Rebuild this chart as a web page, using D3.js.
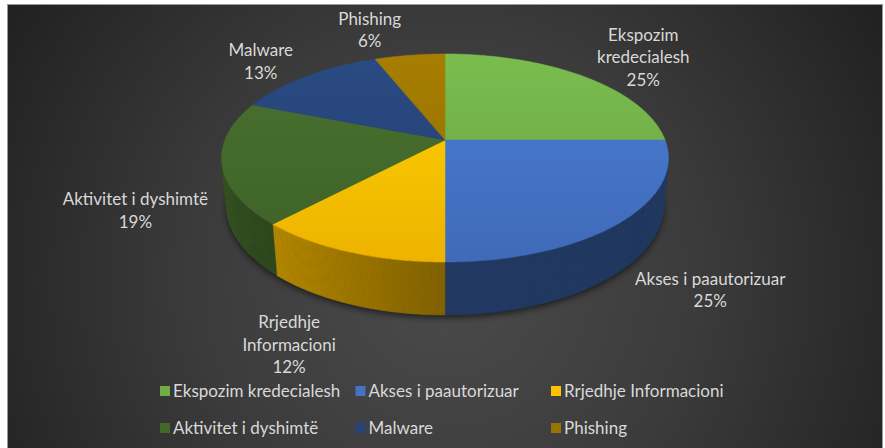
<!DOCTYPE html>
<html>
<head>
<meta charset="utf-8">
<script src="https://cdn.jsdelivr.net/npm/d3@7"></script>
<style>
  body { margin: 0; background: #fff; }
  svg { display: block; }
  text { font-family: Lato, "Open Sans", sans-serif; fill: #d9d9d9; }
</style>
</head>
<body>
<script>
// chart data
const categories = ['Ekspozim kredecialesh', 'Akses i paautorizuar', 'Rrjedhje Informacioni',
  'Aktivitet i dyshimtë', 'Malware', 'Phishing'];
const values = [25, 25, 12, 19, 13, 6];
const colors = ['#70AD47', '#4472C4', '#FFC000', '#43682B', '#264478', '#997300'];
const labelLines = [['Ekspozim', 'kredecialesh'], ['Akses i paautorizuar'], ['Rrjedhje', 'Informacioni'],
  ['Aktivitet i dyshimtë'], ['Malware'], ['Phishing']];

// layout
const width = 885;
const height = 448;
const cx = 445, cy = 140;       // screen position of the pie centre (top face)
const f = 1130, D = 5.135;      // focal length, camera distance (radius = 1)
const sa = 0.4586, ca = 0.8886; // sin / cos of the view tilt
const thick = 0.2436;           // pie height
const labelRadius = 1.35;
const lineGap = 22.5;
const labelNudge = [[18, 0], [20, -18], [-20, -12], [-11, -9], [-4, 4], [-30, -1]];

const svg = d3.select('body').append('svg')
  .attr('width', width)
  .attr('height', height);

const defs = svg.append('defs');

const bg = defs.append('radialGradient')
  .attr('id', 'bg')
  .attr('gradientUnits', 'userSpaceOnUse')
  .attr('cx', 445).attr('cy', 280).attr('r', 560);
bg.append('stop').attr('offset', 0).attr('stop-color', '#4b4b4b');
bg.append('stop').attr('offset', 0.45).attr('stop-color', '#3b3b3b');
bg.append('stop').attr('offset', 1).attr('stop-color', '#1c1c1c');

defs.append('filter').attr('id', 'blur')
  .attr('x', '-20%').attr('y', '-20%').attr('width', '140%').attr('height', '140%')
  .append('feGaussianBlur').attr('stdDeviation', 3);

svg.append('rect')
  .attr('x', 7.5).attr('y', 4.5)
  .attr('width', 875).attr('height', 450)
  .attr('fill', 'url(#bg)')
  .attr('stroke', '#9a9a9a');

// project a point of the pie (angle from 12 o'clock clockwise, radius k, height y)
function proj(theta, k, y) {
  const X = k * Math.sin(theta);
  const Z = k * Math.cos(theta);
  const depth = D + Z * ca - y * sa;
  return [cx + f * X / depth, cy - f * (y * ca + Z * sa) / depth];
}

function arcPoints(a0, a1, k, y) {
  const n = Math.max(2, Math.ceil((a1 - a0) / 0.01));
  return d3.range(n + 1).map(i => proj(a0 + (a1 - a0) * i / n, k, y));
}

const arcs = d3.pie().sort(null).value(d => d)(values);
const total = d3.sum(values);
const pct = d3.format('.0%');

// soft shadow under the pie
svg.append('path')
  .attr('d', d3.line()(arcPoints(0, 2 * Math.PI, 1.0, -thick)) + 'Z')
  .attr('fill', '#000')
  .attr('opacity', 0.55)
  .attr('transform', 'translate(0,3)')
  .attr('filter', 'url(#blur)');

// outer walls, only the parts that face the camera
const wall = svg.append('g').attr('class', 'walls');
arcs.forEach((d, i) => {
  const step = 0.01;
  for (let t = d.startAngle; t < d.endAngle - 1e-9; t += step) {
    const t1 = Math.min(t + step, d.endAngle);
    const mid = (t + t1) / 2;
    if (-D * ca * Math.cos(mid) - 1 <= 0) continue;
    const shade = 0.5 + 0.3 * Math.max(0, -Math.sin(mid));
    const col = d3.interpolateRgb('#000', colors[i])(shade);
    const pts = [proj(t, 1, 0), proj(t1 + 0.002, 1, 0), proj(t1 + 0.002, 1, -thick), proj(t, 1, -thick)];
    wall.append('path')
      .attr('d', d3.line()(pts) + 'Z')
      .attr('fill', col)
      .attr('stroke', col)
      .attr('stroke-width', 0.4);
  }
});

// top faces
const topFaces = svg.append('g').attr('class', 'tops');
arcs.forEach((d, i) => {
  const g = defs.append('linearGradient')
    .attr('id', 'top' + i)
    .attr('gradientUnits', 'userSpaceOnUse')
    .attr('x1', 0).attr('y1', 54).attr('x2', 0).attr('y2', 262);
  g.append('stop').attr('offset', 0).attr('stop-color', d3.color(colors[i]).brighter(0.25));
  g.append('stop').attr('offset', 1).attr('stop-color', d3.color(colors[i]).darker(0.2));

  const pts = [proj(0, 0, 0)].concat(arcPoints(d.startAngle, d.endAngle, 1, 0));
  topFaces.append('path')
    .attr('d', d3.line()(pts) + 'Z')
    .attr('fill', 'url(#top' + i + ')')
    .attr('stroke', 'url(#top' + i + ')')
    .attr('stroke-width', 0.5);
});

// data labels
const labels = svg.append('g').attr('class', 'labels')
  .attr('font-size', 17)
  .attr('text-anchor', 'middle');
arcs.forEach((d, i) => {
  const mid = (d.startAngle + d.endAngle) / 2;
  const y = Math.cos(mid) < 0 ? -thick : 0;
  const p = proj(mid, labelRadius, y);
  const lines = labelLines[i].concat([pct(values[i] / total)]);
  const lx = p[0] + labelNudge[i][0];
  const ly = p[1] + labelNudge[i][1] - (lines.length - 1) * lineGap / 2 + 6;
  const text = labels.append('text').attr('x', lx).attr('y', ly);
  lines.forEach((s, j) => {
    text.append('tspan').attr('x', lx).attr('y', ly + j * lineGap).text(s);
  });
});

// legend
const legend = svg.append('g').attr('class', 'legend')
  .attr('font-size', 17);
categories.forEach((c, i) => {
  const x = 160 + (i % 3) * 195.5;
  const y = 391 + Math.floor(i / 3) * 37;
  legend.append('rect')
    .attr('x', x).attr('y', y - 5)
    .attr('width', 10).attr('height', 10)
    .attr('fill', colors[i]);
  legend.append('text')
    .attr('x', x + 13).attr('y', y + 6)
    .text(c);
});
</script>
</body>
</html>
